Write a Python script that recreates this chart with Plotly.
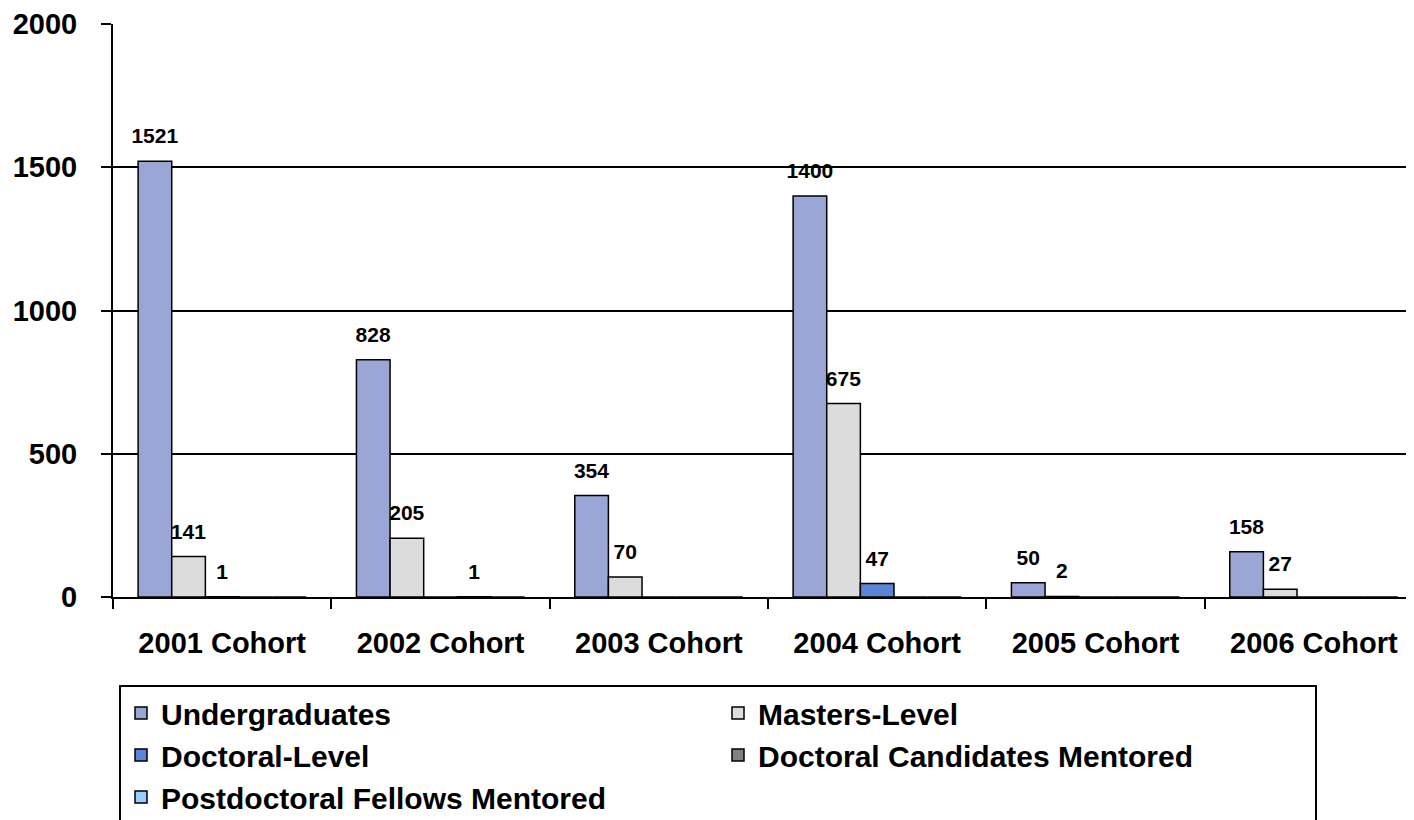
import plotly.graph_objects as go

categories = ["2001 Cohort", "2002 Cohort", "2003 Cohort", "2004 Cohort", "2005 Cohort", "2006 Cohort"]
undergraduates = [1521, 828, 354, 1400, 50, 158]
masters_level = [141, 205, 70, 675, 2, 27]
doctoral_level = [1, 0, 0, 47, 0, 0]
doctoral_candidates = [0, 1, 0, 0, 0, 0]
postdoctoral_fellows = [0, 0, 0, 0, 0, 0]

series = [
    ("Undergraduates", undergraduates, "#99A6D6"),
    ("Masters-Level", masters_level, "#DCDCDC"),
    ("Doctoral-Level", doctoral_level, "#5A86DA"),
    ("Doctoral Candidates Mentored", doctoral_candidates, "#808080"),
    ("Postdoctoral Fellows Mentored", postdoctoral_fellows, "#99CCFF"),
]

FONT = "Arial, Liberation Sans, sans-serif"

fig = go.Figure()
for name, vals, color in series:
    fig.add_trace(go.Bar(
        x=categories,
        y=vals,
        name=name,
        marker=dict(color=color, line=dict(color="black", width=1.5)),
        text=[str(v) if v else "" for v in vals],
        texttemplate="<span style='font-size:21px'>%{text}</span><br> ",
        textposition="outside",
        constraintext="none",
        textfont=dict(family=FONT, size=10, color="black", weight="bold"),
        cliponaxis=False,
    ))

# page body has an 8px offset, so figure coordinates are window coordinates - 8
OFF = 8
W, H = 1414 - OFF, 820 - OFF
L, T = 113 - OFF, 24 - OFF
plot_h = 573
B = H - T - plot_h
plot_w = W - L
bottom_fig = T + plot_h

fig.update_layout(
    width=W, height=H,
    margin=dict(l=L, r=0, t=T, b=B, pad=0, autoexpand=False),
    paper_bgcolor="white", plot_bgcolor="white",
    barmode="group", bargap=0.23, bargroupgap=0,
    font=dict(family=FONT, color="black"),
    showlegend=True,
    legend=dict(
        orientation="h",
        x=(119 - OFF - L) / plot_w, xanchor="left",
        y=-(685 - OFF - bottom_fig) / plot_h, yanchor="top",
        bordercolor="black", borderwidth=2,
        bgcolor="white",
        font=dict(family=FONT, size=30, color="black", weight="bold"),
        entrywidth=552, entrywidthmode="pixels",
        traceorder="normal",
    ),
    uniformtext=dict(mode=False),
)
fig.update_xaxes(
    range=[-0.5, 5.5 - (1423 - 1414) / 218.3],
    showline=True, linecolor="black", linewidth=2,
    ticks="outside", tickson="boundaries", ticklen=10, tickwidth=1.5, tickcolor="black",
    tickfont=dict(family=FONT, size=29, color="black", weight="bold"),
    ticklabelstandoff=19,
    showgrid=False, zeroline=False,
)
fig.update_yaxes(
    range=[0, 2000], dtick=500, tick0=0,
    showline=True, linecolor="black", linewidth=2,
    ticks="outside", ticklen=10, tickwidth=1.5, tickcolor="black",
    tickfont=dict(family=FONT, size=29, color="black", weight="bold"),
    ticklabelstandoff=18,
    showgrid=True, gridcolor="black", gridwidth=1.5,
    zeroline=False,
)

fig.write_html("out.html")
